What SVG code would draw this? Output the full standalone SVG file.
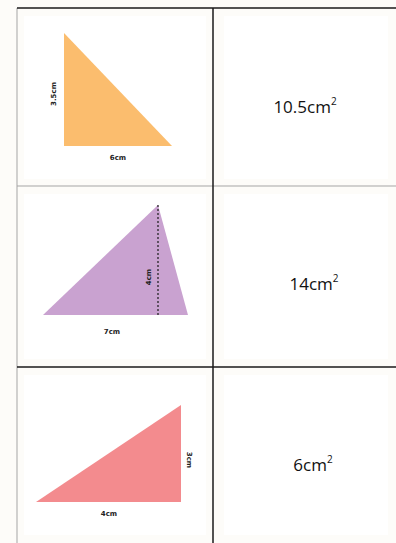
<svg xmlns="http://www.w3.org/2000/svg" width="396" height="543" viewBox="0 0 396 543">
<style>
.bg{fill:#fdfcf9}
.card{fill:#ffffff}
.dark{stroke:#1a1a1a;stroke-width:1.5}
.light{stroke:#a5a5a5;stroke-width:1}
.lbl{font-family:"DejaVu Sans",sans-serif;font-size:7px;font-weight:bold;fill:#222;text-anchor:middle}
.ans{font-family:"Open Sans","DejaVu Sans",sans-serif;font-size:17px;fill:#111;text-anchor:middle}
</style>
<rect class="bg" x="0" y="0" width="396" height="543"/>
<g id="cards">
<rect class="card" x="24" y="16" width="182" height="163"/>
<rect class="card" x="224" y="16" width="164" height="163"/>
<rect class="card" x="24" y="194" width="182" height="165"/>
<rect class="card" x="224" y="194" width="164" height="165"/>
<rect class="card" x="24" y="375" width="182" height="160"/>
<rect class="card" x="224" y="375" width="164" height="160"/>
</g>
<g id="grid">
<line class="light" x1="17" y1="8" x2="17" y2="543"/>
<line class="dark" x1="17" y1="8" x2="396" y2="8"/>
<line class="light" x1="17" y1="186" x2="396" y2="186"/>
<line class="dark" x1="17" y1="367" x2="396" y2="367"/>
<line class="dark" x1="213" y1="8" x2="213" y2="543"/>
</g>
<g id="tri1">
<polygon points="64,33 64,146 172,146" fill="#fbbd6e"/>
<text class="lbl" transform="translate(56,94) rotate(-90)">3.5cm</text>
<text class="lbl" x="118" y="160">6cm</text>
</g>
<g id="tri2">
<polygon points="158,205 43,315 188,315" fill="#c9a2d0"/>
<line x1="158" y1="205" x2="158" y2="315" stroke="#1a1a1a" stroke-width="1.2" stroke-dasharray="2,2"/>
<text class="lbl" transform="translate(151,277) rotate(-90)">4cm</text>
<text class="lbl" x="112" y="334">7cm</text>
</g>
<g id="tri3">
<polygon points="36,502 181,405 181,502" fill="#f38b8e"/>
<text class="lbl" transform="translate(187,460) rotate(90)">3cm</text>
<text class="lbl" x="109" y="516">4cm</text>
</g>
<g id="ans1"><text class="ans" x="305" y="113">10.5cm<tspan font-size="10" dy="-8">2</tspan></text></g>
<g id="ans2"><text class="ans" x="314" y="290">14cm<tspan font-size="10" dy="-8">2</tspan></text></g>
<g id="ans3"><text class="ans" x="313" y="471">6cm<tspan font-size="10" dy="-8">2</tspan></text></g>
</svg>
